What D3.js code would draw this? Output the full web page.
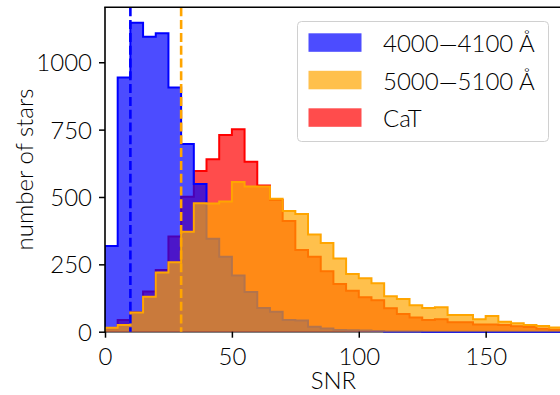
<!DOCTYPE html>
<html>
<head>
<meta charset="utf-8">
<script src="https://cdn.jsdelivr.net/npm/d3@7"></script>
<style>
  body { margin: 0; background: #fff; }
  svg { display: block; font-family: Lato, "DejaVu Sans", sans-serif; font-weight: 300; }
</style>
</head>
<body>
<div id="chart"></div>
<script>
    var w = 560;
    var h = 395;

    // histogram bin edges (SNR), bins of width 5
    var binEdges = [0, 5, 10, 15, 20, 25, 30, 35, 40, 45, 50, 55, 60, 65, 70, 75, 80, 85, 90,
                    95, 100, 105, 110, 115, 120, 125, 130, 135, 140, 145, 150, 155, 160, 165, 170, 175, 180];

    // counts per bin
    var blueCounts = [318, 943, 1147, 1095, 1108, 906, 697, 548, 345, 278, 209, 147, 88, 74, 43, 42, 18, 12,
                      6, 5, 4, 3, 1, 1, 1, 0, 0, 0, 0, 0, 0, 0, 0, 0, 0, 0];
    var orangeCounts = [15, 25, 71, 130, 220, 258, 371, 477, 476, 483, 556, 539, 539, 493, 448, 437, 361, 329,
                        272, 214, 198, 180, 132, 121, 98, 88, 91, 62, 62, 46, 58, 37, 31, 25, 21, 16];
    var redCounts = [8, 43, 72, 149, 229, 353, 501, 596, 640, 730, 751, 631, 543, 489, 411, 303, 278, 224,
                     177, 152, 128, 117, 87, 66, 53, 43, 46, 35, 35, 27, 27, 25, 20, 17, 11, 7];

    var seriesNames = ['4000\u20144100 \u00c5', '5000\u20145100 \u00c5', 'CaT'];
    var seriesColors = ['blue', 'orange', 'red'];
    var cutLines = [10, 30];   // dashed SNR cuts
    var cutColors = ['blue', 'orange'];

    var xTicks = [0, 50, 100, 150];
    var yTicks = [0, 250, 500, 750, 1000];

    var fs = '24px';
    var plot = { left: 105, top: 7.3, right: 561.8, bottom: 331.7 };

    var x = d3.scaleLinear().domain([0, 180]).range([plot.left, plot.right]);
    var y = d3.scaleLinear().domain([0, 1204]).range([plot.bottom, plot.top]);

    var svg = d3.select('#chart').append('svg')
        .attr('width', w)
        .attr('height', h);

    svg.append('clipPath').attr('id', 'clip')
        .append('rect')
        .attr('x', plot.left).attr('y', plot.top)
        .attr('width', plot.right - plot.left).attr('height', plot.bottom - plot.top + 1.2);

    // bottom spine under the histograms
    svg.append('line')
        .attr('x1', plot.left).attr('x2', plot.right)
        .attr('y1', plot.bottom).attr('y2', plot.bottom)
        .attr('stroke', '#000').attr('stroke-width', 1.6);

    var g = svg.append('g').attr('clip-path', 'url(#clip)');

    function pts(counts) {
        var p = counts.map(function(c, i) { return [binEdges[i], c]; });
        p.push([binEdges[binEdges.length - 1], counts[counts.length - 1]]);
        return p;
    }

    var area = d3.area()
        .curve(d3.curveStepAfter)
        .x(function(d) { return x(d[0]); })
        .y0(y(0))
        .y1(function(d) { return y(d[1]); });

    var line = d3.line()
        .curve(d3.curveStepAfter)
        .x(function(d) { return x(d[0]); })
        .y(function(d) { return y(d[1]); });

    // drawing order: CaT, blue, orange
    var drawOrder = [
        { counts: redCounts, color: 'red' },
        { counts: blueCounts, color: 'blue' },
        { counts: orangeCounts, color: 'orange' }
    ];

    drawOrder.forEach(function(s) {
        var p = pts(s.counts);
        g.append('path')
            .attr('d', area(p))
            .attr('fill', s.color)
            .attr('fill-opacity', 0.7);
        var lp = [[binEdges[0], 0]].concat(p, [[binEdges[binEdges.length - 1], 0]]);
        g.append('path')
            .attr('d', line(lp))
            .attr('fill', 'none')
            .attr('stroke', s.color)
            .attr('stroke-width', 2)
            .attr('stroke-linejoin', 'miter');
    });

    // dashed cut lines
    cutLines.forEach(function(v, i) {
        g.append('line')
            .attr('x1', x(v)).attr('x2', x(v))
            .attr('y1', plot.top).attr('y2', plot.bottom)
            .attr('stroke', cutColors[i])
            .attr('stroke-width', 2.6)
            .attr('stroke-dasharray', '9,3.8');
    });

    // left and top spines
    svg.append('line')
        .attr('x1', plot.left).attr('x2', plot.left)
        .attr('y1', plot.top).attr('y2', plot.bottom + 0.8)
        .attr('stroke', '#000').attr('stroke-width', 1.6);
    svg.append('line')
        .attr('x1', plot.left - 0.8).attr('x2', plot.right)
        .attr('y1', plot.top).attr('y2', plot.top)
        .attr('stroke', '#000').attr('stroke-width', 1.6);

    // axes
    var xAxis = d3.axisBottom(x)
        .tickValues(xTicks)
        .tickFormat(d3.format('d'))
        .tickSize(6)
        .tickSizeOuter(0);
    var yAxis = d3.axisLeft(y)
        .tickValues(yTicks)
        .tickFormat(d3.format('d'))
        .tickSize(6)
        .tickSizeOuter(0);

    var gx = svg.append('g')
        .attr('transform', 'translate(' + [0, plot.bottom] + ')')
        .call(xAxis);
    var gy = svg.append('g')
        .attr('transform', 'translate(' + [plot.left, 0] + ')')
        .call(yAxis);

    [gx, gy].forEach(function(a) {
        a.select('.domain').remove();
        a.selectAll('.tick line').attr('stroke', '#000').attr('stroke-width', 1.5);
        a.selectAll('.tick text')
            .attr('fill', '#000')
            .style('font-size', fs)
            .style('font-family', 'Lato, "DejaVu Sans", sans-serif')
            .style('font-weight', 300);
    });
    gx.selectAll('.tick text').attr('dy', null).attr('y', 33.5);
    gy.selectAll('.tick text').attr('dy', '0.35em').attr('x', -13);

    // axis labels
    svg.append('text')
        .attr('x', (plot.left + plot.right) / 2)
        .attr('y', 389)
        .attr('text-anchor', 'middle')
        .style('font-size', fs)
        .text('SNR');

    svg.append('text')
        .attr('transform', 'translate(33,' + ((plot.top + plot.bottom) / 2) + ') rotate(-90)')
        .attr('text-anchor', 'middle')
        .style('font-size', fs)
        .text('number of stars');

    // legend
    var legend = svg.append('g');
    legend.append('rect')
        .attr('x', 297.5).attr('y', 21.5)
        .attr('width', 251).attr('height', 120)
        .attr('rx', 4)
        .attr('fill', '#fff').attr('fill-opacity', 0.8)
        .attr('stroke', '#d0d0d0').attr('stroke-width', 1);

    var legRows = [33.3, 70.8, 108.3];
    seriesNames.forEach(function(name, i) {
        legend.append('rect')
            .attr('x', 308.5).attr('y', legRows[i])
            .attr('width', 53).attr('height', 18.5)
            .attr('fill', seriesColors[i]).attr('fill-opacity', 0.7);
        legend.append('text')
            .attr('x', 383).attr('y', legRows[i] + 18.8)
            .style('font-size', fs)
            .text(name);
    });
</script>
</body>
</html>
